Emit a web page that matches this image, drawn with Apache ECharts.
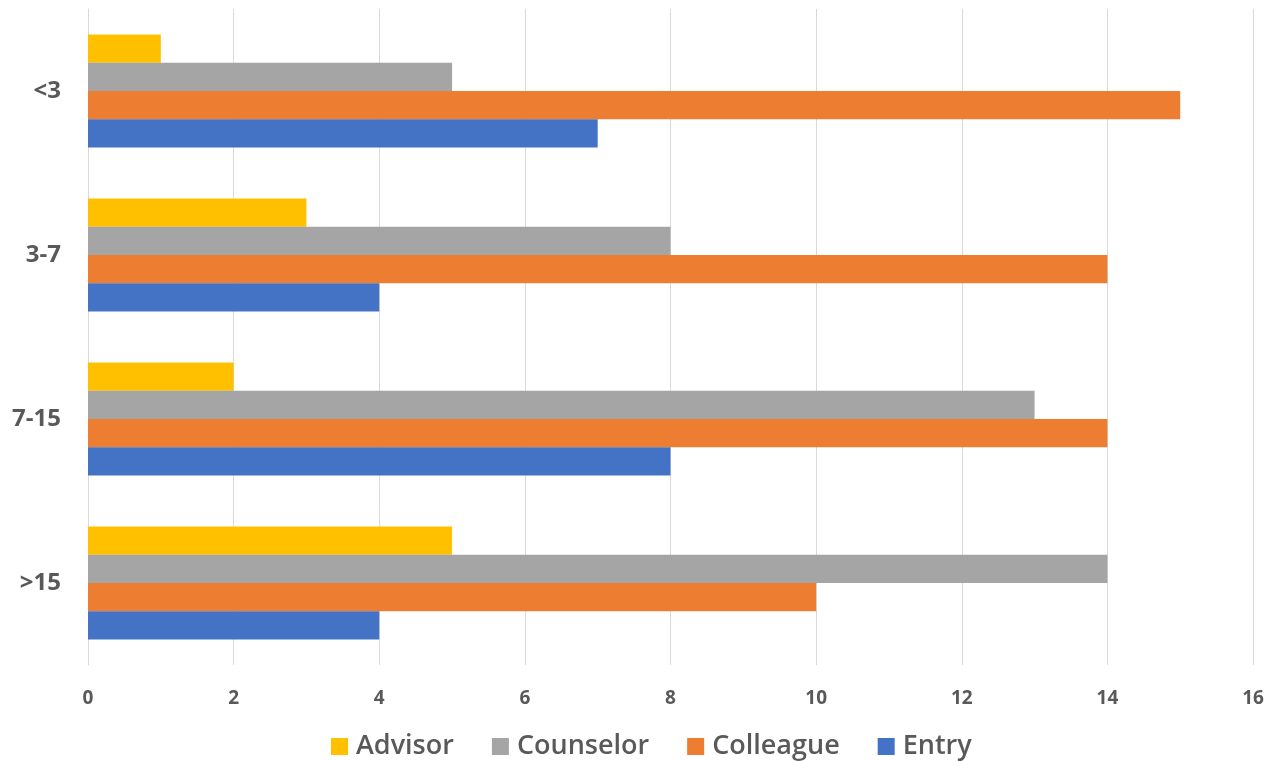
<!DOCTYPE html>
<html><head><meta charset="utf-8">
<script src="https://cdn.jsdelivr.net/npm/echarts@6/dist/echarts.min.js"></script>
<style>html,body{margin:0;padding:0;background:#fff}#c{width:1274px;height:761px}</style>
</head><body><div id="c"></div>
<script>
const categories = ['<3', '3-7', '7-15', '>15'];
const seriesNames = ['Advisor', 'Counselor', 'Colleague', 'Entry'];
const advisor = [1, 3, 2, 5];
const counselor = [5, 8, 13, 14];
const colleague = [15, 14, 14, 10];
const entry = [7, 4, 8, 4];
const xTicks = [0, 2, 4, 6, 8, 10, 12, 14, 16];
const colors = ['#FFC000', '#A5A5A5', '#ED7D31', '#4472C4'];
const values = [advisor, counselor, colleague, entry];

const chart = echarts.init(document.getElementById('c'));
chart.setOption({
  animation: false,
  grid: {left: 88, right: 21, top: 9, bottom: 96, containLabel: false},
  legend: {
    data: seriesNames, top: 728, left: 326, icon: 'rect', itemWidth: 17, itemHeight: 17, itemGap: 38,
    textStyle: {fontFamily: 'Open Sans', fontSize: 27, color: '#595959', fontWeight: 600, padding: [0, 0, 0, 3]}
  },
  xAxis: {
    type: 'value', min: xTicks[0], max: xTicks[xTicks.length - 1], interval: 2,
    axisLine: {show: false}, axisTick: {show: false},
    splitLine: {lineStyle: {color: '#D9D9D9', width: 1}},
    axisLabel: {margin: 24, fontFamily: 'Open Sans', fontSize: 19, fontWeight: 'bold', color: '#595959'}
  },
  yAxis: {
    type: 'category', data: categories, inverse: true,
    axisLine: {show: true, lineStyle: {color: '#D9D9D9'}}, axisTick: {show: false},
    axisLabel: {margin: 27, fontFamily: 'Open Sans', fontSize: 24, fontWeight: 'bold', color: '#595959'}
  },
  series: seriesNames.map((n, i) => ({
    name: n, type: 'bar', data: values[i], barGap: '0%', barCategoryGap: '31%',
    itemStyle: {color: colors[i]}
  }))
});
</script></body></html>
